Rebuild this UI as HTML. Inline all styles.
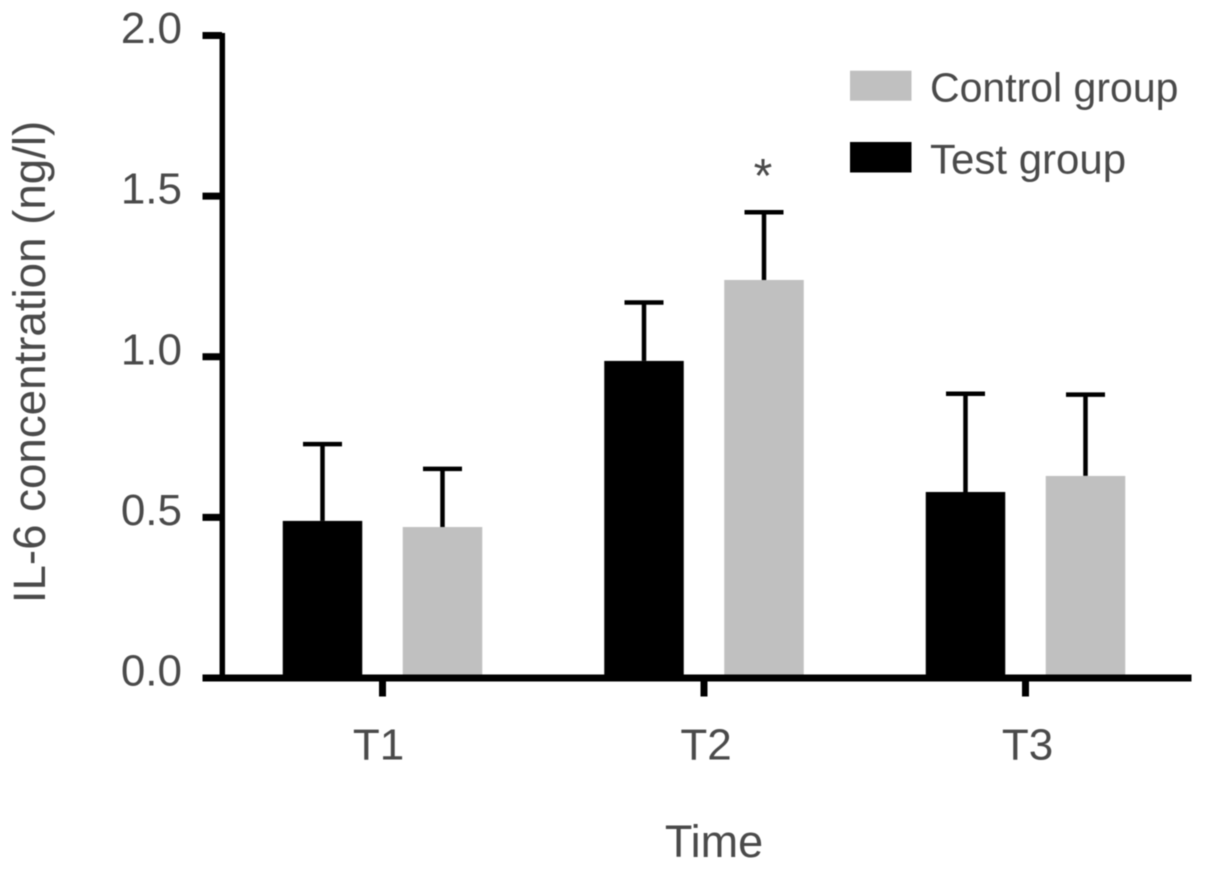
<!DOCTYPE html>
<html>
<head>
<meta charset="utf-8">
<style>
html,body{margin:0;padding:0;background:#fff;}
svg{display:block;filter:blur(0.5px);}
text{font-family:"Liberation Sans",sans-serif;fill:#4a4a4a;}
</style>
</head>
<body>
<svg id="chart" width="1205" height="869" viewBox="0 0 1205 869" xmlns="http://www.w3.org/2000/svg"></svg>
<script>
const categories = ['T1', 'T2', 'T3'];
const testValues = [0.489, 0.987, 0.579];
const testErrors = [0.239, 0.182, 0.306];
const controlValues = [0.47, 1.239, 0.629];
const controlErrors = [0.181, 0.211, 0.253];
const yTickLabels = ['0.0', '0.5', '1.0', '1.5', '2.0'];
const yTickValues = [0, 0.5, 1, 1.5, 2];
const significance = ['', '*', ''];

const svg = document.getElementById('chart');
const NS = 'http://www.w3.org/2000/svg';
const yScale = v => 678 - v * 321.25;
const xCenter = i => 382.5 + i * 321.5;
const barOffset = 60;
const barWidth = 79.5;
const capHalf = 19.5;

function make(tag, attrs, parent) {
  const el = document.createElementNS(NS, tag);
  for (const k in attrs) el.setAttribute(k, attrs[k]);
  (parent || svg).appendChild(el);
  return el;
}

function drawBar(cx, value, err, color, name) {
  const top = yScale(value);
  const errTop = yScale(value + err);
  const stem = make('line', {x1: cx, x2: cx, y1: top, y2: errTop, stroke: '#000', 'stroke-width': 4.5});
  
  
  const cap = make('line', {x1: cx - capHalf, x2: cx + capHalf, y1: errTop, y2: errTop, stroke: '#000', 'stroke-width': 4.5});
  
  
  const bar = make('rect', {x: cx - barWidth / 2, y: top, width: barWidth, height: yScale(0) - top, fill: color});
  
  
}

categories.forEach((c, i) => {
  drawBar(xCenter(i) - barOffset, testValues[i], testErrors[i], '#000', 'bar-test-' + c.toLowerCase());
  drawBar(xCenter(i) + barOffset, controlValues[i], controlErrors[i], '#c0c0c0', 'bar-control-' + c.toLowerCase());

  const tick = make('line', {x1: xCenter(i), x2: xCenter(i), y1: 678, y2: 696.5, stroke: '#000', 'stroke-width': 7});
  
  

  const labelNudge = i === 0 ? -4 : 2;
  const label = make('text', {x: xCenter(i) + labelNudge, y: 759.5, 'font-size': 44, 'text-anchor': 'middle'});
  label.textContent = c;
  
  

  if (significance[i]) {
    const star = make('text', {
      x: xCenter(i) + barOffset - 1,
      y: yScale(controlValues[i] + controlErrors[i]) - 20,
      'font-size': 48,
      'text-anchor': 'middle'
    });
    star.textContent = significance[i];
    
    
  }
});

const yAxis = make('line', {x1: 222.3, x2: 222.3, y1: 33, y2: 680, stroke: '#000', 'stroke-width': 5.5});



const xAxis = make('line', {x1: 202.5, x2: 1191.5, y1: 678, y2: 678, stroke: '#000', 'stroke-width': 7});



yTickValues.forEach((v, i) => {
  const t = make('line', {x1: 202.5, x2: 222, y1: yScale(v), y2: yScale(v), stroke: '#000', 'stroke-width': 7});
  
  
  const l = make('text', {x: 182, y: yScale(v) + 7.5, 'font-size': 44, 'text-anchor': 'end'});
  l.textContent = yTickLabels[i];
  
  
});

const yTitle = make('text', {x: 0, y: 0, 'font-size': 45.7, 'text-anchor': 'middle', transform: 'translate(45 362) rotate(-90)'});
yTitle.textContent = 'IL-6 concentration (ng/l)';



const xTitle = make('text', {x: 714, y: 857, 'font-size': 45, 'text-anchor': 'middle'});
xTitle.textContent = 'Time';



const swatchControl = make('rect', {x: 850, y: 70.7, width: 61.5, height: 30, fill: '#c0c0c0'});


const legendControl = make('text', {x: 930, y: 101.5, 'font-size': 41});
legendControl.textContent = 'Control group';



const swatchTest = make('rect', {x: 850, y: 142, width: 61.5, height: 30.5, fill: '#000'});


const legendTest = make('text', {x: 930, y: 173.5, 'font-size': 42});
legendTest.textContent = 'Test group';


</script>
</body>
</html>
